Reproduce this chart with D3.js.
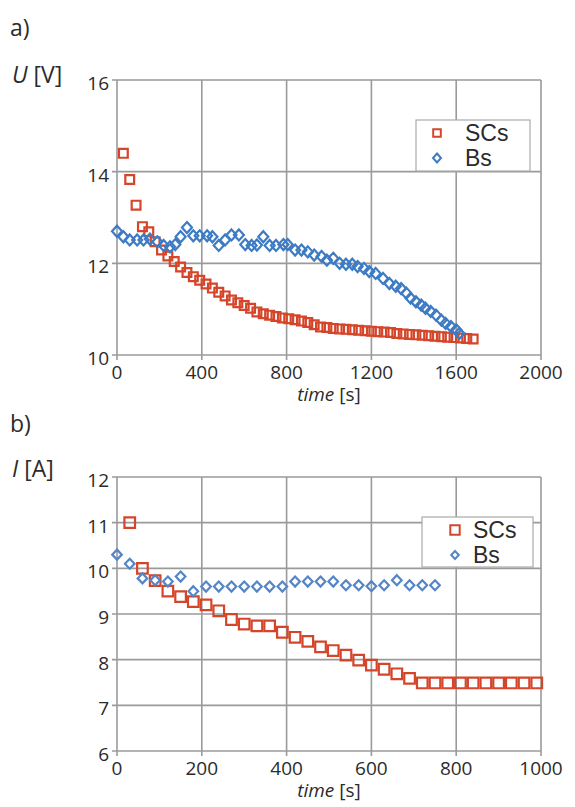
<!DOCTYPE html>
<html>
<head>
<meta charset="utf-8">
<script src="https://cdn.jsdelivr.net/npm/d3@7"></script>
<style>
  body { margin: 0; background: #fff; }
  svg text { font-family: "Open Sans", "Liberation Sans", sans-serif; fill: #2b2b2b; }
</style>
</head>
<body>
<script>
// a) voltage vs time
const uTimeSC = [30, 60, 90, 120, 150, 180, 210, 240, 270, 300, 330, 360, 390, 420, 450, 480, 510, 540, 570, 600,
  630, 660, 690, 720, 750, 780, 810, 840, 870, 900, 930, 960, 990, 1020, 1050, 1080, 1110, 1140, 1170, 1200,
  1230, 1260, 1290, 1320, 1350, 1380, 1410, 1440, 1470, 1500, 1530, 1560, 1590, 1620, 1650, 1680];
const uSC = [14.4, 13.83, 13.27, 12.8, 12.69, 12.47, 12.29, 12.16, 12.04, 11.92, 11.8, 11.71, 11.63, 11.55, 11.46,
  11.37, 11.29, 11.2, 11.14, 11.08, 11.02, 10.94, 10.9, 10.87, 10.84, 10.81, 10.79, 10.77, 10.74, 10.71, 10.66,
  10.61, 10.6, 10.58, 10.57, 10.56, 10.55, 10.54, 10.53, 10.52, 10.51, 10.5, 10.49, 10.47, 10.46, 10.45, 10.44,
  10.43, 10.42, 10.41, 10.4, 10.39, 10.38, 10.37, 10.36, 10.35];
const uTimeB = [0, 30, 60, 95, 125, 155, 190, 220, 250, 275, 300, 330, 360, 390, 425, 450, 480, 510, 540, 575, 605,
  635, 660, 690, 720, 750, 785, 805, 840, 870, 900, 930, 965, 990, 1020, 1050, 1080, 1110, 1135, 1165, 1190, 1220,
  1255, 1285, 1315, 1340, 1365, 1385, 1410, 1435, 1455, 1480, 1505, 1530, 1550, 1575, 1600, 1615];
const uB = [12.7, 12.58, 12.51, 12.51, 12.51, 12.53, 12.47, 12.39, 12.36, 12.41, 12.58, 12.78, 12.6, 12.6, 12.6,
  12.58, 12.39, 12.51, 12.62, 12.62, 12.41, 12.39, 12.4, 12.58, 12.39, 12.39, 12.41, 12.41, 12.29, 12.29, 12.25,
  12.18, 12.15, 12.07, 12.11, 12.0, 11.98, 11.98, 11.93, 11.89, 11.82, 11.78, 11.67, 11.56, 11.5, 11.45, 11.35,
  11.24, 11.16, 11.09, 11.02, 10.95, 10.87, 10.76, 10.69, 10.62, 10.55, 10.47];
const uTicksX = [0, 400, 800, 1200, 1600, 2000];
const uTicksY = [10, 12, 14, 16];

// b) current vs time
const iTimeSC = [30, 60, 90, 120, 150, 180, 210, 240, 270, 300, 330, 360, 390, 420, 450, 480, 510, 540, 570, 600,
  630, 660, 690, 720, 750, 780, 810, 840, 870, 900, 930, 960, 990];
const iSC = [11.0, 10.0, 9.73, 9.5, 9.38, 9.27, 9.2, 9.07, 8.88, 8.78, 8.74, 8.74, 8.6, 8.49, 8.4, 8.28, 8.2, 8.1,
  7.99, 7.88, 7.79, 7.69, 7.59, 7.49, 7.49, 7.49, 7.49, 7.49, 7.49, 7.49, 7.49, 7.49, 7.49];
const iTimeB = [0, 30, 60, 90, 120, 150, 180, 210, 240, 270, 300, 330, 360, 390, 420, 450, 480, 510, 540, 570, 600,
  630, 660, 690, 720, 750];
const iB = [10.3, 10.1, 9.78, 9.74, 9.71, 9.82, 9.5, 9.6, 9.6, 9.6, 9.6, 9.6, 9.6, 9.6, 9.71, 9.71, 9.71, 9.71,
  9.63, 9.63, 9.61, 9.63, 9.74, 9.63, 9.63, 9.63];
const iTicksX = [0, 200, 400, 600, 800, 1000];
const iTicksY = [6, 7, 8, 9, 10, 11, 12];

const seriesNames = ['SCs', 'Bs'];
const red = '#d4452a';
const blue = '#3d7bc4';
const grid = '#9a9a9a';

const svg = d3.select('body').append('svg')
  .attr('width', 575)
  .attr('height', 807);

function square(s) {
  return `M${-s},${-s}h${2 * s}v${2 * s}h${-2 * s}Z`;
}
function diamond(w, h) {
  return `M0,${-h}L${w},0L0,${h}L${-w},0Z`;
}

function panel(opt) {
  const x = d3.scaleLinear().domain(opt.xDomain).range([opt.left, opt.right]);
  const y = d3.scaleLinear().domain(opt.yDomain).range([opt.bottom, opt.top]);
  const g = svg.append('g');

  // grid
  g.selectAll('.vgrid').data(opt.xTicks).enter().append('line')
    .attr('x1', d => x(d)).attr('x2', d => x(d))
    .attr('y1', opt.top).attr('y2', opt.bottom + 5)
    .attr('stroke', grid).attr('stroke-width', 1.6);
  g.selectAll('.hgrid').data(opt.yTicks).enter().append('line')
    .attr('y1', d => y(d)).attr('y2', d => y(d))
    .attr('x1', opt.left - 5).attr('x2', opt.right)
    .attr('stroke', grid).attr('stroke-width', 1.6);

  // tick labels
  g.selectAll('.xlab').data(opt.xTicks).enter().append('text')
    .attr('x', d => x(d)).attr('y', opt.bottom + 24)
    .attr('text-anchor', 'middle')
    .style('font-size', '19px')
    .text(d => d);
  g.selectAll('.ylab').data(opt.yTicks).enter().append('text')
    .attr('x', opt.left - 8).attr('y', d => y(d) + 10)
    .attr('text-anchor', 'end')
    .style('font-size', '19px')
    .text(d => d);

  // x title
  const xt = g.append('text')
    .attr('x', (opt.left + opt.right) / 2).attr('y', opt.bottom + 46)
    .attr('text-anchor', 'middle')
    .style('font-size', '19px');
  xt.append('tspan').style('font-style', 'italic').text('time');
  xt.append('tspan').text(' [s]');

  // panel label and y title
  g.append('text').attr('x', 10).attr('y', opt.labelY)
    .style('font-size', '23px').text(opt.label);
  const yt = g.append('text').attr('x', 12).attr('y', opt.titleY)
    .style('font-size', '23px');
  yt.append('tspan').style('font-style', 'italic').text(opt.yVar);
  yt.append('tspan').text(' [' + opt.yUnit + ']');

  // SCs squares
  g.selectAll('.sc').data(opt.scT).enter().append('path')
    .attr('transform', (d, i) => `translate(${x(d)},${y(opt.scV[i])})`)
    .attr('d', square(opt.sq))
    .attr('fill', 'none').attr('stroke', red).attr('stroke-width', 2.2);

  // Bs diamonds
  g.selectAll('.bs').data(opt.bT).enter().append('path')
    .attr('transform', (d, i) => `translate(${x(d)},${y(opt.bV[i])})`)
    .attr('d', diamond(opt.dw, opt.dh))
    .attr('fill', 'none').attr('stroke', opt.blue).attr('stroke-width', 2.2);

  // legend
  const lg = g.append('g');
  lg.append('rect')
    .attr('x', opt.leg.x).attr('y', opt.leg.y)
    .attr('width', opt.leg.w).attr('height', opt.leg.h)
    .attr('fill', '#fff').attr('stroke', '#aaa').attr('stroke-width', 1.2);
  seriesNames.forEach((name, i) => {
    const cy = opt.leg.y + 13 + i * 25;
    lg.append('path')
      .attr('transform', `translate(${opt.leg.mx},${cy})`)
      .attr('d', i === 0 ? square(opt.leg.sq) : diamond(opt.dw - 1, opt.dh - 1))
      .attr('fill', 'none')
      .attr('stroke', i === 0 ? red : opt.blue)
      .attr('stroke-width', 2);
    lg.append('text')
      .attr('x', opt.leg.tx).attr('y', cy + 8)
      .style('font-family', '"Liberation Sans", Arial, sans-serif')
      .style('font-size', '23px')
      .text(name);
  });
}

panel({
  xDomain: [0, 2000], yDomain: [10, 16],
  left: 117, right: 541, top: 80, bottom: 355,
  xTicks: uTicksX, yTicks: uTicksY,
  scT: uTimeSC, scV: uSC, bT: uTimeB, bV: uB,
  sq: 4.4, dw: 5, dh: 5.5, blue: blue,
  label: 'a)', labelY: 36, titleY: 83, yVar: 'U', yUnit: 'V',
  leg: { x: 416, y: 120, w: 114, h: 51, mx: 437, tx: 465, sq: 3.8 }
});

panel({
  xDomain: [0, 1000], yDomain: [6, 12],
  left: 117, right: 541, top: 477, bottom: 751,
  xTicks: iTicksX, yTicks: iTicksY,
  scT: iTimeSC, scV: iSC, bT: iTimeB, bV: iB,
  sq: 5.3, dw: 4.8, dh: 5, blue: '#5585c6',
  label: 'b)', labelY: 432, titleY: 477, yVar: 'I', yUnit: 'A',
  leg: { x: 422, y: 517, w: 111, h: 50, mx: 455, tx: 473, sq: 4.7 }
});
</script>
</body>
</html>
